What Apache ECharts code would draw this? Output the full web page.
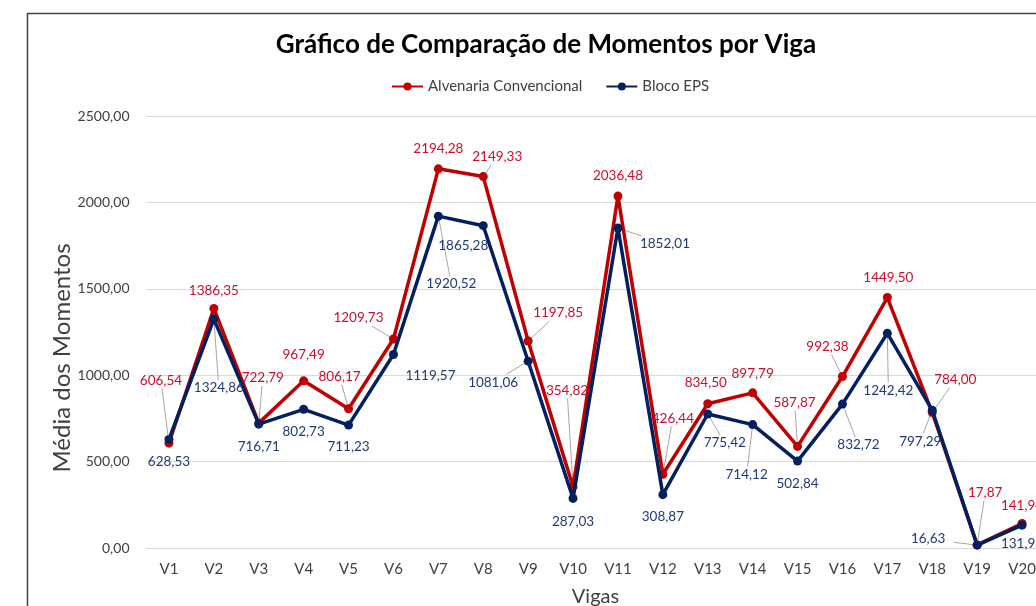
<!DOCTYPE html>
<html>
<head>
<meta charset="utf-8">
<script src="https://cdn.jsdelivr.net/npm/echarts@6/dist/echarts.min.js"></script>
<style>
html,body{margin:0;padding:0;overflow:hidden;background:#fff;}
#chart{width:1060px;height:606px;}
</style>
</head>
<body>
<div id="chart"></div>
<script>
const categories = ['V1','V2','V3','V4','V5','V6','V7','V8','V9','V10','V11','V12','V13','V14','V15','V16','V17','V18','V19','V20'];
const alvenaria = [606.54,1386.35,722.79,967.49,806.17,1209.73,2194.28,2149.33,1197.85,354.82,2036.48,426.44,834.50,897.79,587.87,992.38,1449.50,784.00,17.87,141.94];
const bloco = [628.53,1324.86,716.71,802.73,711.23,1119.57,1920.52,1865.28,1081.06,287.03,1852.01,308.87,775.42,714.12,502.84,832.72,1242.42,797.29,16.63,131.99];

// label placement (offset from point, px) and leader-line flags
const redOffsets = [[-8,-63],[0,-18],[4,-45],[0,-26],[-9,-32],[-35,-21],[0,-20],[14,-20],[30,-28],[-6,-96],[0,-20],[10,-56],[-2,-21],[0,-19],[-3,-44],[-15,-30],[1,-20],[23,-33],[8,-52],[0,-18]];
const redLines = [1,0,1,0,1,1,0,1,1,1,0,1,0,0,1,1,0,1,1,0];
const blueOffsets = [[0,22],[5,69],[0,22],[0,22],[0,22],[37,21],[13,68],[-20,20],[-35,21],[0,23],[47,16],[0,22],[17,29],[-6,50],[0,23],[16,41],[1,57],[-12,31],[-49,-6],[0,18]];
const blueLines = [0,1,0,0,0,0,1,0,1,0,1,0,1,1,0,1,1,1,1,0];

const fmt = v => Number(v).toFixed(2).replace('.', ',');
const FONT = 'Lato';
const RED = '#C00000', BLUE = '#002060';

function buildData(vals, offs){
  return vals.map((v,i)=>({ value: v, label: {offset: offs[i]} }));
}

function leaderSeries(vals, offs, lines){
  return {
    type: 'custom', silent: true, z: 1,
    data: vals.map((v,i)=>[i, v, offs[i][0], offs[i][1], lines[i]]),
    renderItem: function(params, api){
      if (!api.value(4)) return null;
      const p = api.coord([api.value(0), api.value(1)]);
      const dx = api.value(2), dy = api.value(3);
      const len = Math.sqrt(dx*dx + dy*dy);
      const hw = 26, hh = 8;
      const tx = dx !== 0 ? hw/Math.abs(dx) : Infinity;
      const ty = dy !== 0 ? hh/Math.abs(dy) : Infinity;
      const t = Math.min(tx, ty);
      const ex = p[0] + dx*(1-t), ey = p[1] + dy*(1-t);
      const sx = p[0] + dx/len*4, sy = p[1] + dy/len*4;
      return {type: 'line', shape: {x1: sx, y1: sy, x2: ex, y2: ey},
        style: {stroke: '#a6a6a6', lineWidth: 1}};
    }
  };
}

const chart = echarts.init(document.getElementById('chart'), null, {renderer:'canvas'});
chart.setOption({
  animation: false,
  backgroundColor: '#fff',
  textStyle: {fontFamily: FONT},
  graphic: [{
    type: 'rect', silent: true, z: -1,
    shape: {x: 27.5, y: 13.5, width: 2000, height: 2000},
    style: {fill: null, stroke: '#404040', lineWidth: 1.5}
  }, {
    type: 'text', silent: true,
    x: 62, y: 358, rotation: Math.PI/2,
    style: {text: 'Média dos Momentos', align: 'center', verticalAlign: 'middle',
      fontFamily: FONT, fontSize: 24, fill: '#404040'}
  }],
  title: {
    text: 'Gráfico de Comparação de Momentos por Viga',
    left: 541, top: 27, textAlign: 'center',
    textStyle: {fontFamily: FONT, fontSize: 26, fontWeight: 'bold', color: '#000'}
  },
  legend: {
    left: 386, top: 74,
    itemWidth: 31, itemHeight: 10, itemGap: 23,
    textStyle: {fontFamily: FONT, fontSize: 15, color: '#404040'},
    data: ['Alvenaria Convencional', 'Bloco EPS']
  },
  grid: {left: 146.5, right: 15.5, top: 116, bottom: 58, containLabel: false, outerBoundsMode: 'none'},
  xAxis: {
    type: 'category', data: categories, boundaryGap: true,
    name: 'Vigas', nameLocation: 'middle', nameGap: 39,
    nameTextStyle: {fontFamily: FONT, fontSize: 20, color: '#404040'},
    axisLine: {lineStyle: {color: '#d9d9d9', width: 1}},
    axisTick: {show: false},
    axisLabel: {fontFamily: FONT, fontSize: 15, color: '#404040', margin: 14}
  },
  yAxis: {
    type: 'value', min: 0, max: 2500, interval: 500,
    axisLine: {show: false}, axisTick: {show: false},
    splitLine: {lineStyle: {color: '#d9d9d9', width: 1}},
    axisLabel: {fontFamily: FONT, fontSize: 14, color: '#404040', margin: 17, formatter: fmt}
  },
  series: [
    leaderSeries(alvenaria, redOffsets, redLines),
    leaderSeries(bloco, blueOffsets, blueLines),
    {
      name: 'Alvenaria Convencional', type: 'line', z: 2,
      data: buildData(alvenaria, redOffsets),
      symbol: 'circle', symbolSize: 9,
      lineStyle: {color: RED, width: 3.5},
      itemStyle: {color: RED},
      label: {show: true, position: 'inside', formatter: p => fmt(p.value),
        fontFamily: FONT, fontSize: 13.5, color: '#C8102E'}
    },
    {
      name: 'Bloco EPS', type: 'line', z: 3,
      data: buildData(bloco, blueOffsets),
      symbol: 'circle', symbolSize: 9,
      lineStyle: {color: BLUE, width: 3.5},
      itemStyle: {color: BLUE},
      label: {show: true, position: 'inside', formatter: p => fmt(p.value),
        fontFamily: FONT, fontSize: 13.5, color: '#1F3A78'}
    }
  ]
});
</script>
</body>
</html>
